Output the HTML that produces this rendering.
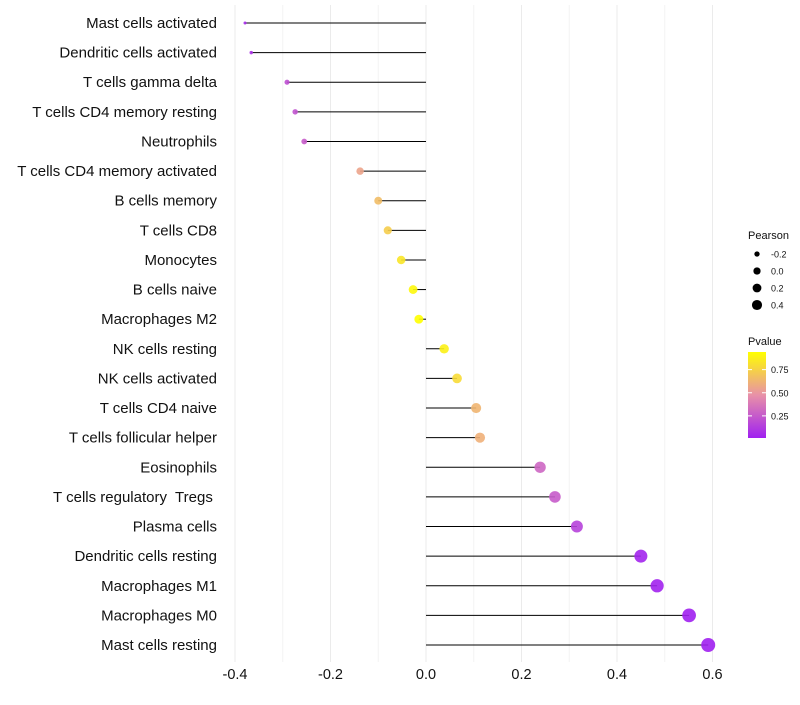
<!DOCTYPE html>
<html><head><meta charset="utf-8"><style>
body{margin:0;background:#fff;font-family:"Liberation Sans",sans-serif}
</style></head><body>
<svg id="chart" width="800" height="700" xmlns="http://www.w3.org/2000/svg" font-family="Liberation Sans, sans-serif"></svg>
<script>
const categories=["Mast cells activated","Dendritic cells activated","T cells gamma delta","T cells CD4 memory resting","Neutrophils","T cells CD4 memory activated","B cells memory","T cells CD8","Monocytes","B cells naive","Macrophages M2","NK cells resting","NK cells activated","T cells CD4 naive","T cells follicular helper","Eosinophils","T cells regulatory\u00a0 Tregs\u00a0","Plasma cells","Dendritic cells resting","Macrophages M1","Macrophages M0","Mast cells resting"];
const pearson=[-0.379,-0.366,-0.291,-0.274,-0.255,-0.138,-0.10,-0.08,-0.052,-0.027,-0.015,0.038,0.065,0.105,0.113,0.239,0.27,0.316,0.45,0.484,0.551,0.591];
const pvalue=[0.05,0.08,0.2,0.22,0.25,0.55,0.65,0.72,0.82,0.9,0.95,0.87,0.78,0.62,0.6,0.3,0.25,0.15,0.03,0.02,0.01,0.005];
const xTicks=[-0.4,-0.2,0,0.2,0.4,0.6];
const xTickLabels=["-0.4","-0.2","0.0","0.2","0.4","0.6"];
const sizeLegend=[-0.2,0,0.2,0.4];
const sizeLegendLabels=["-0.2","0.0","0.2","0.4"];
const colorTicks=[0.25,0.5,0.75];
const colorTickLabels=["0.25","0.50","0.75"];

const svg=document.getElementById('chart');
const NS="http://www.w3.org/2000/svg";
function mk(t,a,p){const e=document.createElementNS(NS,t);for(const k in a)e.setAttribute(k,a[k]);(p||svg).appendChild(e);return e;}
const x=v=>426+v*477.5;
const y=i=>23+i*(645-23)/(categories.length-1);
const r=v=>Math.sqrt(Math.max(1,20.6+48.2*v));
function col(p){const t=Math.max(0,Math.min(1,(p-0.01)/0.92));const a=[160,32,240],b=[255,255,0];
 const m=[232,145,168];let c;
 if(t<0.5){const s=t/0.5;c=a.map((v,i)=>v+(m[i]-v)*s);}else{const s=(t-0.5)/0.5;c=m.map((v,i)=>v+(b[i]-v)*s);}
 return `rgb(${c.map(Math.round).join(',')})`;}

const grid=mk('g',{});
for(let v=-0.4;v<=0.61;v+=0.1){mk('line',{x1:x(v),x2:x(v),y1:5,y2:662,stroke:Math.abs(Math.round(v*10))%2===0?'#ebebeb':'#f3f3f3','stroke-width':1},grid);}
const xa=mk('g',{});
xTicks.forEach((v,i)=>{const t=mk('text',{x:x(v),y:679,'text-anchor':'middle','font-size':14.5,fill:'#111'},xa);t.textContent=xTickLabels[i];});
const ya=mk('g',{});
categories.forEach((c,i)=>{const t=mk('text',{x:217,y:y(i)+5,'text-anchor':'end','font-size':15,fill:'#111'},ya);t.textContent=c;});
const marks=mk('g',{});
categories.forEach((c,i)=>{
 const l=mk('line',{x1:x(0),x2:x(pearson[i]),y1:y(i),y2:y(i),stroke:'#000','stroke-width':1},marks);
 
 const d=mk('circle',{cx:x(pearson[i]),cy:y(i),r:r(pearson[i]),fill:col(pvalue[i]),'fill-opacity':0.9},marks);
 
});
const lg=mk('g',{});
let t=mk('text',{x:748,y:239,'font-size':11,fill:'#111'},lg);t.textContent='Pearson';
sizeLegend.forEach((v,i)=>{const cy=254+i*17;
 const c=mk('circle',{cx:757,cy:cy,r:r(v)*0.8,fill:'#000'},lg);
 const tt=mk('text',{x:771,y:cy+3.5,'font-size':9,fill:'#111'},lg);tt.textContent=sizeLegendLabels[i];});
t=mk('text',{x:748,y:345,'font-size':11,fill:'#111'},lg);t.textContent='Pvalue';
const defs=mk('defs',{});const gr=mk('linearGradient',{id:'pg',x1:0,y1:1,x2:0,y2:0},defs);
for(let k=0;k<=10;k++){mk('stop',{offset:k/10,'stop-color':col(0.01+0.92*k/10)},gr);}
const bar=mk('rect',{x:748,y:352,width:18,height:86,fill:'url(#pg)'},lg);
const py=p=>439-p*92.5;
colorTicks.forEach((v,i)=>{mk('line',{x1:748,x2:752,y1:py(v),y2:py(v),stroke:'#fff'},lg);mk('line',{x1:762,x2:766,y1:py(v),y2:py(v),stroke:'#fff'},lg);
 const tt=mk('text',{x:771,y:py(v)+3.5,'font-size':9,fill:'#111'},lg);tt.textContent=colorTickLabels[i];});
</script>
</body></html>
